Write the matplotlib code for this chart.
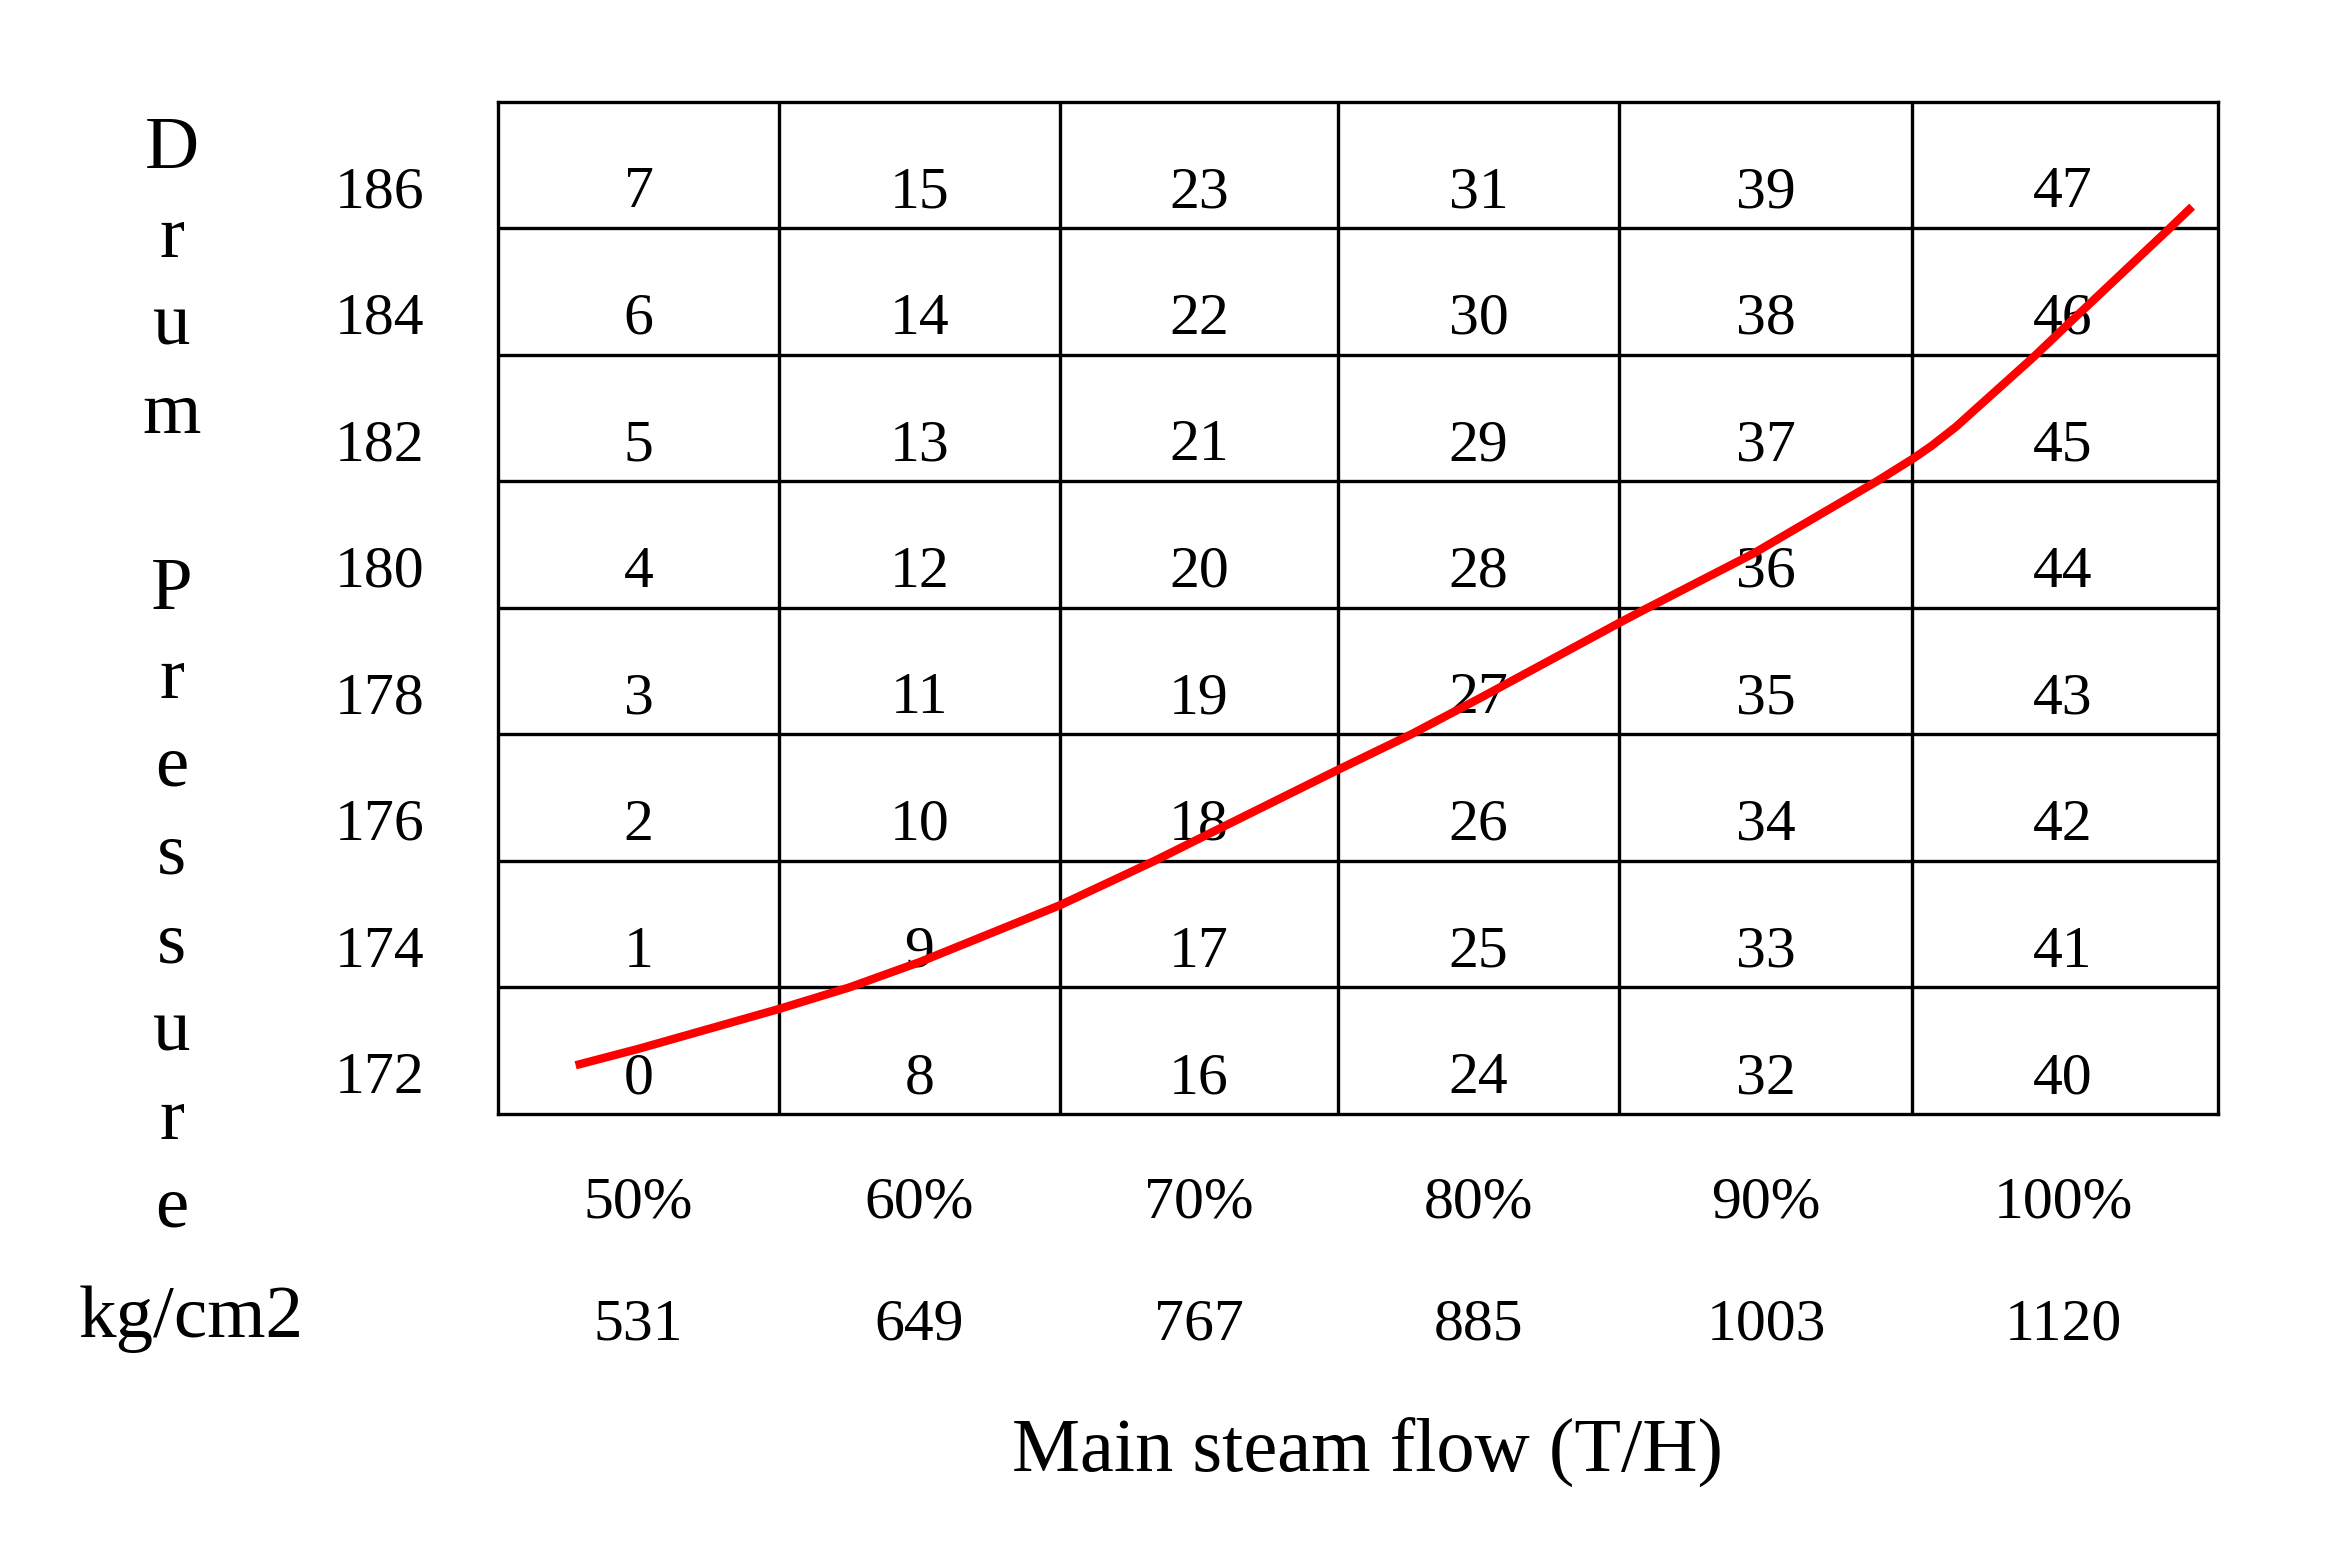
import numpy as np
import matplotlib
matplotlib.use("Agg")
import matplotlib.pyplot as plt
from matplotlib import transforms

# ---------------- data ----------------
flow_pct = ["50%", "60%", "70%", "80%", "90%", "100%"]
flow_th = [531, 649, 767, 885, 1003, 1120]
pressures = [172, 174, 176, 178, 180, 182, 184, 186]
# rows follow pressures (bottom -> top), columns follow flows
cell_numbers = [
    [0, 8, 16, 24, 32, 40],
    [1, 9, 17, 25, 33, 41],
    [2, 10, 18, 26, 34, 42],
    [3, 11, 19, 27, 35, 43],
    [4, 12, 20, 28, 36, 44],
    [5, 13, 21, 29, 37, 45],
    [6, 14, 22, 30, 38, 46],
    [7, 15, 23, 31, 39, 47],
]
# red operating curve (flow T/H, pressure kg/cm2)
curve_flow = [504.6, 531.0, 590.0, 619.5, 649.0, 684.4, 708.0, 748.1, 772.4,
              826.0, 856.7, 885.0, 944.0, 954.6, 998.0, 1047.4, 1062.0,
              1069.1, 1078.5, 1089.4, 1108.5, 1123.4, 1160.3, 1170.0]
curve_pressure = [171.77, 172.03, 172.66, 173.00, 173.40, 173.94, 174.30,
                  175.00, 175.45, 176.44, 177.00, 177.56, 178.76, 178.98,
                  179.86, 181.00, 181.36, 181.56, 181.86, 182.26, 182.96,
                  183.54, 184.96, 185.34]
y_title_letters = list("Drum Pressure")
y_unit = "kg/cm2"
x_title = "Main steam flow (T/H)"

# ---------------- layout / style ----------------
W, H, DPI = 2344, 1541, 100
FONT = "Liberation Serif"
GRID_LW = 2.4
CURVE_LW = 6.0
# relative widths of the table columns as drawn in the original table
col_width_ratio = [281, 281, 278, 281, 293, 306]

fig = plt.figure(figsize=(W / DPI, H / DPI), dpi=DPI)
fig.patch.set_facecolor("white")
ax = fig.add_axes([498 / W, 1 - 1114 / H, 1720 / W, (1114 - 101.6) / H])

step = flow_th[1] - flow_th[0]
col_edges = [flow_th[0] - step / 2] + \
    [(a + b) / 2 for a, b in zip(flow_th[:-1], flow_th[1:])] + \
    [flow_th[0] - step / 2 + step * len(flow_th)]
row_edges = [p - 1 for p in pressures] + [pressures[-1] + 1]

# piecewise-linear x scale so each table column gets its drawn width
edge_pos = np.concatenate([[0.0], np.cumsum(col_width_ratio)])
edge_val = np.array(col_edges, dtype=float)


def fwd(x):
    return np.interp(x, edge_val, edge_pos)


def inv(y):
    return np.interp(y, edge_pos, edge_val)


ax.set_xscale("function", functions=(fwd, inv))
ax.set_xlim(col_edges[0], col_edges[-1])
ax.set_ylim(row_edges[0], row_edges[-1])
ax.set_xticks([])
ax.set_yticks([])
ax.minorticks_off()
for s in ax.spines.values():
    s.set_linewidth(GRID_LW)
    s.set_color("black")
ax.vlines(col_edges[1:-1], row_edges[0], row_edges[-1], colors="black",
          linewidth=GRID_LW)
ax.hlines(row_edges[1:-1], col_edges[0], col_edges[-1], colors="black",
          linewidth=GRID_LW)

# cell numbers (baseline a bit below each row centre)
num_fs = 43
cell_tr = transforms.offset_copy(ax.transData, fig=fig, y=-30.5, units="points")
for r, p in enumerate(pressures):
    for c, f in enumerate(flow_th):
        ax.text(f, p, str(cell_numbers[r][c]), transform=cell_tr,
                ha="center", va="baseline", fontsize=num_fs, family=FONT,
                zorder=2)

# pressure labels
ylab_tr = transforms.offset_copy(
    transforms.blended_transform_factory(fig.transFigure, ax.transData),
    fig=fig, y=-30.5, units="points")
for p in pressures:
    fig.text(380 / W, p, str(p), transform=ylab_tr, ha="center",
             va="baseline", fontsize=num_fs, family=FONT)

# flow labels below the grid
xlab_tr = transforms.blended_transform_factory(ax.transData, fig.transFigure)
for f, pct in zip(flow_th, flow_pct):
    fig.text(f, 1 - 1217 / H, pct, transform=xlab_tr, ha="center",
             va="baseline", fontsize=num_fs, family=FONT)
    fig.text(f, 1 - 1339 / H, str(f), transform=xlab_tr, ha="center",
             va="baseline", fontsize=num_fs, family=FONT)

# red curve
ax.plot(curve_flow, curve_pressure, color="#ff0000", linewidth=CURVE_LW,
        solid_capstyle="butt", solid_joinstyle="round", zorder=3,
        clip_on=False)

# vertical y title, one letter per line
title_fs = 54
for i, ch in enumerate(y_title_letters):
    if ch.strip():
        fig.text(172 / W, 1 - (168.4 + 88.2 * i) / H, ch, ha="center",
                 va="baseline", fontsize=title_fs, family=FONT)
fig.text(191 / W, 1 - 1337 / H, y_unit, ha="center", va="baseline",
         fontsize=title_fs, family=FONT)

# x title
fig.text(1367 / W, 1 - 1472 / H, x_title, ha="center", va="baseline",
         fontsize=55, family=FONT)

fig.savefig("out.png", dpi=DPI, facecolor="white")
